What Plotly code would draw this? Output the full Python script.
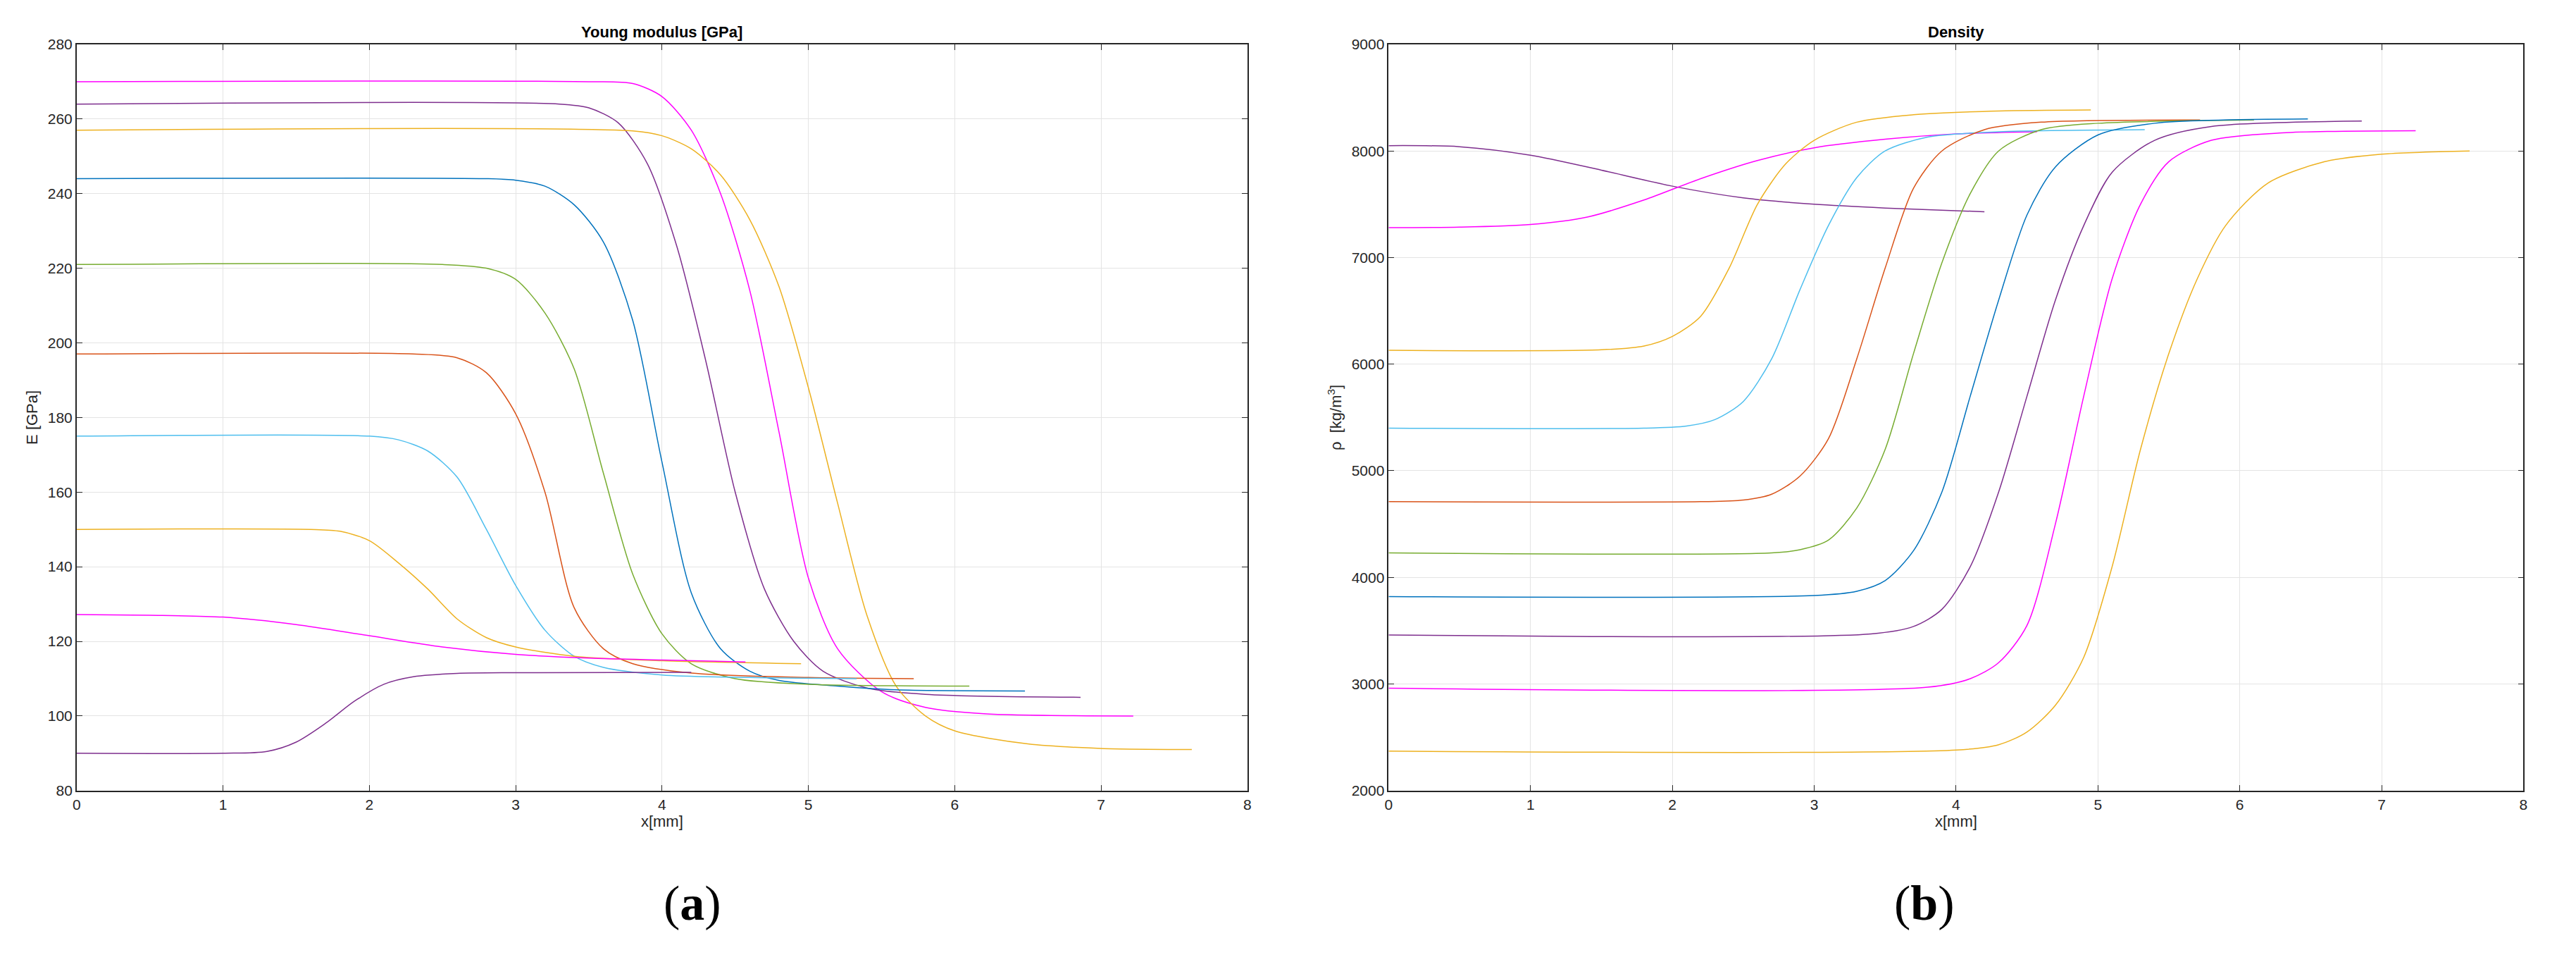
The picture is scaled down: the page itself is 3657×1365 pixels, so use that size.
import plotly.graph_objects as go

# MATLAB default colours
BLUE, RED, ORANGE, PURPLE = "#0072BD", "#D95319", "#EDB120", "#7E2F8E"
GREEN, CYAN, MAGENTA = "#77AC30", "#4DBEEE", "#FF00FF"

# Young modulus curves: (x [mm], E [GPa])
e_magenta_top_x = [0, 3.5, 3.8, 4.0, 4.2, 4.4, 4.6, 4.8, 5.0, 5.2, 5.5, 5.8, 6.2, 7.22]
e_magenta_top_y = [270, 270, 269.5, 266, 257, 240, 214, 176, 137, 118, 106.5, 102.3, 100.6, 100]
e_purple_top_x = [0, 3.3, 3.5, 3.7, 3.9, 4.1, 4.3, 4.5, 4.7, 4.9, 5.1, 5.4, 5.8, 6.86]
e_purple_top_y = [264, 264, 263, 259, 248, 226, 195, 160, 134, 120, 112, 107.5, 105.8, 105]
e_orange_top_x = [0, 3.8, 4.0, 4.2, 4.4, 4.6, 4.8, 5.0, 5.2, 5.4, 5.6, 5.8, 6.0, 6.5, 7.0, 7.62]
e_orange_top_y = [257, 256.8, 255.5, 252, 245, 233, 215, 188, 157, 127, 108, 100, 96, 92.5, 91.3, 91]
e_blue_x = [0, 2.8, 3.0, 3.2, 3.4, 3.6, 3.8, 4.0, 4.2, 4.4, 4.6, 4.8, 5.2, 5.6, 6.48]
e_blue_y = [244, 244, 243.6, 242, 237, 227, 206, 168, 133, 118, 112, 109.5, 108, 107, 106.7]
e_green_x = [0, 2.5, 2.8, 3.0, 3.2, 3.4, 3.6, 3.8, 4.0, 4.2, 4.5, 5.0, 6.1]
e_green_y = [221, 221, 220, 217, 208, 193, 165, 138, 122, 114, 110, 108.5, 108]
e_red_x = [0, 2.3, 2.6, 2.8, 3.0, 3.2, 3.4, 3.6, 3.8, 4.2, 5.0, 5.72]
e_red_y = [197, 197, 196, 192, 181, 160, 129, 118, 114, 111.5, 110.3, 110]
e_cyan_x = [0, 2.0, 2.2, 2.4, 2.6, 2.8, 3.0, 3.2, 3.4, 3.6, 4.0, 4.6, 5.33]
e_cyan_y = [175, 175, 174, 171, 164, 150, 135, 123, 116, 113, 111, 110.3, 110]
e_orange_low_x = [0, 1.6, 1.8, 2.0, 2.2, 2.4, 2.6, 2.8, 3.0, 3.4, 4.0, 4.95]
e_orange_low_y = [150, 150, 149.5, 147, 141, 134, 126, 121, 118.5, 116, 114.8, 114]
e_magenta_low_x = [0, 0.5, 1.0, 1.5, 2.0, 2.5, 3.0, 3.5, 4.0, 4.57]
e_magenta_low_y = [127.2, 127, 126.5, 124.5, 121.5, 118.5, 116.5, 115.5, 115, 114.5]
e_purple_low_x = [0, 1.0, 1.3, 1.5, 1.7, 1.9, 2.1, 2.3, 2.6, 3.0, 4.2]
e_purple_low_y = [90, 90, 90.5, 93, 98, 104, 108.5, 110.5, 111.4, 111.6, 111.7]

# Density curves: (x [mm], rho [kg/m3])
r_purple_top_x = [0, 0.5, 1.0, 1.5, 2.0, 2.5, 3.0, 3.5, 4.2]
r_purple_top_y = [8050, 8040, 7960, 7820, 7670, 7560, 7500, 7465, 7430]
r_magenta_top_x = [0, 0.5, 1.0, 1.4, 1.8, 2.2, 2.6, 3.0, 3.5, 4.0, 4.57]
r_magenta_top_y = [7280, 7285, 7310, 7380, 7540, 7740, 7910, 8030, 8110, 8160, 8180]
r_orange_top_x = [0, 1.5, 1.8, 2.0, 2.2, 2.4, 2.6, 2.8, 3.0, 3.3, 3.7, 4.3, 4.95]
r_orange_top_y = [6130, 6135, 6170, 6260, 6450, 6900, 7500, 7880, 8100, 8270, 8340, 8375, 8385]
r_cyan_x = [0, 1.8, 2.1, 2.3, 2.5, 2.7, 2.9, 3.1, 3.3, 3.5, 3.8, 4.3, 5.33]
r_cyan_y = [5400, 5400, 5420, 5480, 5650, 6050, 6700, 7300, 7750, 8000, 8130, 8180, 8200]
r_red_x = [0, 2.2, 2.5, 2.7, 2.9, 3.1, 3.3, 3.5, 3.7, 3.9, 4.2, 4.6, 5.72]
r_red_y = [4710, 4710, 4725, 4780, 4950, 5300, 6050, 6900, 7650, 8000, 8200, 8270, 8290]
r_green_x = [0, 2.7, 2.9, 3.1, 3.3, 3.5, 3.7, 3.9, 4.1, 4.3, 4.6, 5.0, 6.1]
r_green_y = [4230, 4230, 4260, 4350, 4650, 5200, 6100, 6950, 7600, 8000, 8200, 8260, 8290]
r_blue_x = [0, 3.0, 3.3, 3.5, 3.7, 3.9, 4.1, 4.3, 4.5, 4.7, 5.0, 5.4, 6.48]
r_blue_y = [3820, 3830, 3870, 3970, 4250, 4800, 5700, 6600, 7400, 7850, 8150, 8260, 8300]
r_purple_low_x = [0, 3.4, 3.7, 3.9, 4.1, 4.3, 4.5, 4.7, 4.9, 5.1, 5.4, 5.8, 6.86]
r_purple_low_y = [3460, 3470, 3540, 3700, 4100, 4800, 5700, 6600, 7300, 7800, 8100, 8230, 8280]
r_magenta_low_x = [0, 3.8, 4.1, 4.3, 4.5, 4.7, 4.9, 5.1, 5.3, 5.5, 5.8, 6.3, 7.24]
r_magenta_low_y = [2960, 2970, 3050, 3200, 3550, 4500, 5700, 6800, 7500, 7900, 8100, 8170, 8190]
r_orange_low_x = [0, 4.0, 4.3, 4.5, 4.7, 4.9, 5.1, 5.3, 5.5, 5.7, 5.9, 6.2, 6.6, 7.0, 7.62]
r_orange_low_y = [2370, 2380, 2430, 2550, 2800, 3250, 4100, 5200, 6100, 6800, 7300, 7700, 7900, 7970, 8000]

young = [
    (e_magenta_top_x, e_magenta_top_y, MAGENTA), (e_purple_top_x, e_purple_top_y, PURPLE),
    (e_orange_top_x, e_orange_top_y, ORANGE), (e_blue_x, e_blue_y, BLUE),
    (e_green_x, e_green_y, GREEN), (e_red_x, e_red_y, RED), (e_cyan_x, e_cyan_y, CYAN),
    (e_orange_low_x, e_orange_low_y, ORANGE), (e_magenta_low_x, e_magenta_low_y, MAGENTA),
    (e_purple_low_x, e_purple_low_y, PURPLE),
]
density = [
    (r_purple_top_x, r_purple_top_y, PURPLE), (r_magenta_top_x, r_magenta_top_y, MAGENTA),
    (r_orange_top_x, r_orange_top_y, ORANGE), (r_cyan_x, r_cyan_y, CYAN),
    (r_red_x, r_red_y, RED), (r_green_x, r_green_y, GREEN), (r_blue_x, r_blue_y, BLUE),
    (r_purple_low_x, r_purple_low_y, PURPLE), (r_magenta_low_x, r_magenta_low_y, MAGENTA),
    (r_orange_low_x, r_orange_low_y, ORANGE),
]

fig = go.Figure()
for xs, ys, c in young:
    fig.add_trace(go.Scatter(x=xs, y=ys, mode="lines",
                             line=dict(color=c, width=1.5, shape="spline", smoothing=0.8),
                             xaxis="x", yaxis="y", showlegend=False))
for xs, ys, c in density:
    fig.add_trace(go.Scatter(x=xs, y=ys, mode="lines",
                             line=dict(color=c, width=1.5, shape="spline", smoothing=0.8),
                             xaxis="x2", yaxis="y2", showlegend=False))

font = "Liberation Sans, Arial, sans-serif"
ax = dict(showline=True, linecolor="#262626", linewidth=1.5, mirror="ticks", ticks="inside",
          ticklen=8, tickcolor="#262626", showgrid=True, gridcolor="#e4e4e4", zeroline=False,
          tickfont=dict(size=21, color="#262626", family=font))
ttl = dict(size=22, color="#262626")
fig.update_layout(
    width=3657, height=1365, margin=dict(l=0, r=0, t=0, b=0),
    plot_bgcolor="white", paper_bgcolor="white", font=dict(family=font, color="#262626"),
    xaxis=dict(ax, domain=[0.026, 0.482], range=[0, 8], dtick=1,
               title=dict(text="x[mm]", font=ttl, standoff=6)),
    yaxis=dict(ax, domain=[0.179, 0.968], range=[80, 280], dtick=20,
               title=dict(text="E [GPa]", font=ttl, standoff=8)),
    xaxis2=dict(ax, domain=[0.537, 0.979], range=[0, 8], dtick=1, anchor="y2",
                title=dict(text="x[mm]", font=ttl, standoff=6)),
    yaxis2=dict(ax, domain=[0.179, 0.968], range=[2000, 9000], dtick=1000, anchor="x2",
                title=dict(text="ρ  [kg/m<sup>3</sup>]", font=ttl, standoff=8)),
    annotations=[
        dict(text="<b>Young modulus [GPa]</b>", x=0.254, y=0.970, xref="paper", yref="paper",
             xanchor="center", yanchor="bottom", showarrow=False, font=dict(size=22, color="#000")),
        dict(text="<b>Density</b>", x=0.758, y=0.970, xref="paper", yref="paper",
             xanchor="center", yanchor="bottom", showarrow=False, font=dict(size=22, color="#000")),
        dict(text="(<b>a</b>)", x=0.254, y=0.03, xref="paper", yref="paper", showarrow=False,
             font=dict(size=70, color="#000", family="Liberation Serif, serif")),
        dict(text="(<b>b</b>)", x=0.758, y=0.03, xref="paper", yref="paper", showarrow=False,
             font=dict(size=70, color="#000", family="Liberation Serif, serif")),
    ],
)
fig.write_html("out.html")
